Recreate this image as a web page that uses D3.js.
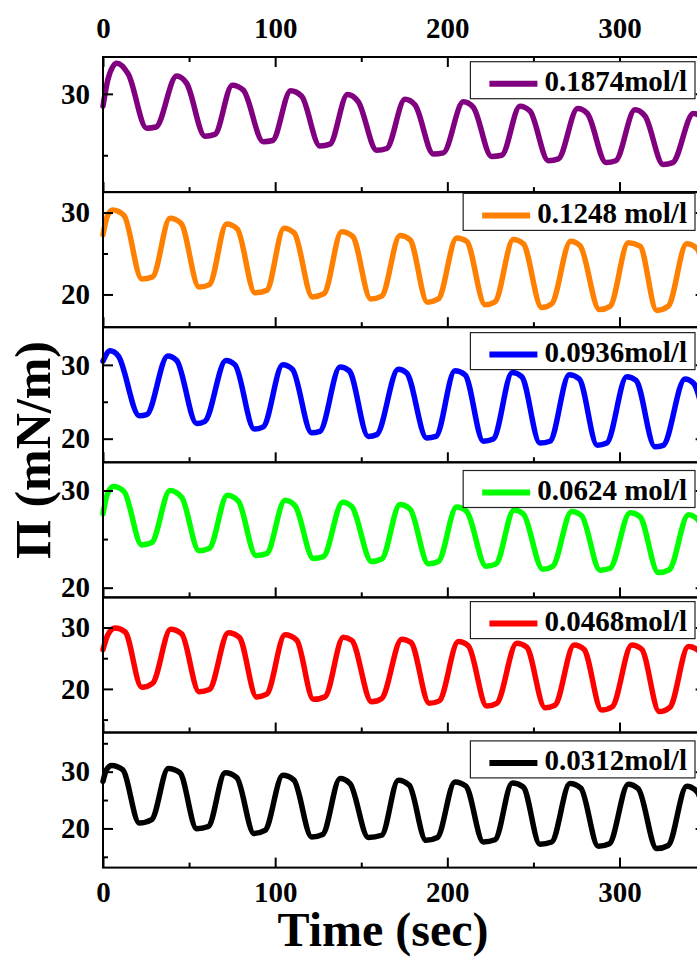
<!DOCTYPE html>
<html>
<head>
<meta charset="utf-8">
<script src="https://cdn.jsdelivr.net/npm/d3@7"></script>
<style>
  body { margin: 0; background: #fff; }
  svg { display: block; }
  text { font-family: "Liberation Serif", "Times New Roman", serif; font-weight: bold; fill: #000; }
</style>
</head>
<body>
<svg id="chart" width="697" height="957"></svg>
<script>
// ---- data -------------------------------------------------------------
const timeTicks = [0, 100, 200, 300];
const timeMinorTicks = [50, 150, 250, 350];
const concentrations = ["0.1874mol/l", "0.1248 mol/l", "0.0936mol/l", "0.0624 mol/l", "0.0468mol/l", "0.0312mol/l"];
const lineColors = ["#800080", "#ff8000", "#0000ff", "#00ff00", "#ff0000", "#000000"];
const piRanges = [[22, 33], [16, 32.5], [16.8, 35.1], [19, 32.9], [12.9, 34.9], [13.1, 36.9]];
const piTickLabels = [[30], [20, 30], [20, 30], [20, 30], [20, 30], [20, 30]];
const piMinorTicks = [[25], [25], [25], [25], [15, 25], [15, 25, 35]];

// surface pressure (mN/m) vs time (sec), one pair of arrays per concentration
const t1874 = [0, 3.1, 8, 14.7, 25.4, 30.8, 42.8, 48.6, 59.2, 65, 75.1, 81.5, 93.1, 98.5, 109, 115.4, 126, 131.8, 142, 148.3, 159, 164.8, 175.4, 181.2, 191.9, 197.7, 209.3, 215.1, 225.7, 231.6, 242.2, 248, 258.7, 264.5, 275.7, 281.3, 292.2, 297.8, 309, 314.8, 325.4, 330.9, 342.9, 348.6, 350];
const p1874 = [29.0, 31.3, 32.5, 31.6, 27.2, 27.3, 31.45, 30.85, 26.55, 26.7, 30.7, 30.3, 26.1, 26.2, 30.25, 29.8, 25.75, 25.9, 29.95, 29.35, 25.4, 25.55, 29.55, 29.1, 25.1, 25.2, 29.35, 28.9, 24.9, 25.0, 29.0, 28.6, 24.55, 24.7, 28.8, 28.4, 24.4, 24.55, 28.7, 28.2, 24.25, 24.4, 28.4, 28.0, 27.5];

const t1248 = [0, 2.5, 5.6, 12.2, 22.5, 28.8, 38.9, 45.3, 55.8, 61.8, 71.8, 78, 88.3, 95.1, 105.1, 111.1, 121.6, 128.4, 138.6, 145, 155.5, 161.9, 172.5, 178.3, 188.4, 194.8, 205.4, 211.2, 221.9, 227.7, 238.3, 244.1, 254.8, 260.6, 271.6, 277.1, 288.3, 294.5, 305.1, 311.9, 321.6, 328.3, 339, 345, 350];
const p1248 = [27.3, 29.56, 30.3, 29.65, 21.9, 22.15, 29.3, 28.7, 20.9, 21.2, 28.6, 28.0, 20.2, 20.5, 28.1, 27.5, 19.7, 20.1, 27.65, 27.1, 19.45, 19.8, 27.2, 26.7, 19.05, 19.45, 26.9, 26.5, 18.75, 19.1, 26.7, 26.2, 18.4, 18.85, 26.5, 25.95, 18.15, 18.55, 26.3, 25.9, 18.05, 18.55, 26.2, 25.6, 21.8];

const t0936 = [0, 4.1, 8.9, 21.1, 25.4, 37.6, 42.8, 54.4, 59.2, 71.4, 76.7, 87.9, 93.1, 104.4, 110, 121.2, 126, 137.7, 143, 154.1, 159, 171.5, 176.4, 188, 193.4, 204.4, 210.3, 220.9, 226.7, 237.7, 243.2, 253.8, 259.6, 270.8, 276.6, 287.1, 292.6, 304.2, 309.6, 320.6, 325.4, 338, 342.9, 350];
const p0936 = [30.5, 31.9, 31.2, 23.1, 23.25, 31.2, 30.6, 22.05, 22.35, 30.6, 30.0, 21.3, 21.6, 30.0, 29.4, 20.8, 21.0, 29.7, 29.2, 20.3, 20.55, 29.4, 28.9, 20.1, 20.3, 29.2, 28.65, 19.65, 19.95, 28.95, 28.4, 19.4, 19.65, 28.65, 28.1, 19.1, 19.4, 28.4, 27.9, 18.9, 19.1, 28.1, 27.55, 22.0];

const t0624 = [0, 2.5, 6, 12.2, 22.5, 28.3, 38.9, 45.7, 55.8, 61.8, 72.2, 78.6, 88.9, 95.1, 105.7, 111.5, 122.2, 128, 139.2, 144.5, 156, 161.9, 172.5, 178.3, 189, 194.8, 205.4, 211.2, 222.5, 228.3, 238.7, 244.1, 255.4, 261.2, 272.2, 278, 288.7, 294.5, 306.1, 311.9, 322.5, 328.9, 340, 345.5, 350];
const p0624 = [27.6, 29.6, 30.4, 29.9, 24.4, 24.65, 30.0, 29.3, 23.8, 24.05, 29.5, 28.9, 23.3, 23.5, 29.0, 28.45, 23.0, 23.2, 28.8, 28.35, 22.7, 22.95, 28.55, 28.1, 22.45, 22.7, 28.3, 27.85, 22.2, 22.45, 28.0, 27.6, 21.9, 22.2, 27.85, 27.4, 21.8, 22.0, 27.7, 27.3, 21.55, 21.85, 27.5, 27.0, 24.5];

const t0468 = [0, 2.8, 7, 12.8, 22.5, 28.8, 39.3, 45.7, 55.8, 61.8, 72.8, 79.2, 89.2, 95.1, 105.7, 112.5, 122.2, 128.9, 139.6, 144.5, 156, 161.9, 173.5, 178.9, 189.5, 195.3, 206.4, 212.2, 222.9, 228.7, 240.3, 246.1, 256.7, 262.5, 273.6, 279.4, 289.6, 295.8, 307.1, 312.9, 323.1, 329.3, 340, 346, 350];
const p0468 = [26.4, 28.8, 29.9, 29.3, 20.25, 20.9, 29.7, 28.95, 19.55, 19.9, 29.15, 28.4, 18.7, 19.15, 28.8, 27.95, 18.3, 18.7, 28.4, 27.9, 17.9, 18.45, 28.1, 27.55, 17.65, 18.05, 27.7, 27.0, 17.2, 17.65, 27.45, 26.8, 16.95, 17.35, 27.15, 26.45, 16.55, 17.1, 27.15, 26.45, 16.3, 17.0, 26.9, 26.2, 22.0];

const t0312 = [0, 2, 5, 11.4, 21.1, 28.3, 37.9, 44.7, 54.4, 61.2, 70.9, 77.7, 87.7, 94.1, 104.4, 110.9, 121.2, 127.6, 137.7, 143.5, 154.1, 161.9, 171.5, 177.9, 187.6, 194.2, 204.4, 210.8, 220.9, 227.7, 237.7, 244.1, 253.8, 260.6, 271.2, 277.5, 287.7, 294.1, 305.1, 310.9, 321.6, 328.3, 339, 345, 350];
const p0312 = [28.3, 30.3, 31.1, 30.35, 20.95, 21.55, 30.55, 29.8, 19.95, 20.35, 29.8, 28.95, 19.1, 19.65, 29.35, 28.5, 18.5, 18.95, 28.8, 27.9, 18.4, 18.8, 28.5, 27.6, 17.9, 18.4, 28.2, 27.45, 17.6, 18.0, 28.0, 27.3, 17.2, 17.6, 27.9, 27.1, 16.85, 17.3, 27.8, 27.0, 16.45, 17.0, 27.45, 26.5, 21.5];

const seriesTimes = [t1874, t1248, t0936, t0624, t0468, t0312];
const seriesPi = [p1874, p1248, p0936, p0624, p0468, p0312];

// ---- layout -------------------------------------------------------------
const svg = d3.select("#chart");
const left = 103, right = 705.6;
const firstTop = 57, panelH = 135.1;
const legendTop = [4.7, 1.3, 5.4, 8.2, 4.2, 8.4];
const fontSize = 29;

const x = d3.scaleLinear().domain([0, 350]).range([left, right]);

function styleAxis(g) {
  g.select(".domain").remove();
  g.selectAll(".tick line").attr("stroke", "#000").attr("stroke-width", 2);
  g.selectAll(".tick text").attr("font-size", fontSize);
  g.attr("font-family", null);
}

seriesTimes.forEach((times, i) => {
  const top = firstTop + i * panelH, bottom = top + panelH;
  const y = d3.scaleLinear().domain(piRanges[i]).range([bottom, top]);
  const g = svg.append("g");

  // recorded trace
  const pts = times.map((t, k) => [t, seriesPi[i][k]]);
  g.append("path")
    .datum(pts)
    .attr("fill", "none")
    .attr("stroke", lineColors[i])
    .attr("stroke-width", 5.5)
    .attr("stroke-linejoin", "round")
    .attr("stroke-linecap", "round")
    .attr("d", d3.line().x(d => x(d[0])).y(d => y(d[1])).curve(d3.curveMonotoneX));

  // left axis: labelled majors + minors, ticks pointing inward
  g.append("g").attr("transform", `translate(${left},0)`)
    .call(d3.axisLeft(y).tickValues(piTickLabels[i]).tickSize(-10).tickPadding(13).tickFormat(d3.format("d")))
    .call(styleAxis);
  g.append("g").attr("transform", `translate(${left},0)`)
    .call(d3.axisLeft(y).tickValues(piMinorTicks[i]).tickSize(-5).tickFormat(""))
    .call(styleAxis);
  // right axis mirror
  g.append("g").attr("transform", `translate(${right},0)`)
    .call(d3.axisRight(y).tickValues(piTickLabels[i]).tickSize(-10).tickFormat(""))
    .call(styleAxis);
  g.append("g").attr("transform", `translate(${right},0)`)
    .call(d3.axisRight(y).tickValues(piMinorTicks[i]).tickSize(-5).tickFormat(""))
    .call(styleAxis);

  // bottom time axis of each panel
  const last = i === seriesTimes.length - 1;
  g.append("g").attr("transform", `translate(0,${bottom})`)
    .call(d3.axisBottom(x).tickValues(timeTicks).tickSize(-10).tickPadding(14)
      .tickFormat(last ? d3.format("d") : ""))
    .call(styleAxis);
  g.append("g").attr("transform", `translate(0,${bottom})`)
    .call(d3.axisBottom(x).tickValues(timeMinorTicks).tickSize(-5).tickFormat(""))
    .call(styleAxis);

  if (i === 0) {
    g.append("g").attr("transform", `translate(0,${top})`)
      .call(d3.axisTop(x).tickValues(timeTicks).tickSize(-10).tickPadding(19).tickFormat(d3.format("d")))
      .call(styleAxis);
    g.append("g").attr("transform", `translate(0,${top})`)
      .call(d3.axisTop(x).tickValues(timeMinorTicks).tickSize(-5).tickFormat(""))
      .call(styleAxis);
  }

  // frame
  g.append("rect")
    .attr("x", left).attr("y", top)
    .attr("width", right - left).attr("height", panelH)
    .attr("fill", "none").attr("stroke", "#000").attr("stroke-width", 2);

  // legend
  const lg = g.append("g");
  const boxTop = top + legendTop[i];
  const box = lg.append("rect").attr("fill", "#fff").attr("stroke", "#222").attr("stroke-width", 1.2);
  const label = lg.append("text")
    .attr("font-size", fontSize)
    .attr("text-anchor", "end")
    .attr("x", 687).attr("y", boxTop + 29.5)
    .text(concentrations[i]);
  const w = label.node().getComputedTextLength();
  const textStart = 687 - w;
  const lineEnd = textStart - 7, lineStart = lineEnd - 48;
  lg.append("line")
    .attr("x1", lineStart).attr("x2", lineEnd)
    .attr("y1", boxTop + 22).attr("y2", boxTop + 22)
    .attr("stroke", lineColors[i]).attr("stroke-width", 6);
  box.attr("x", lineStart - 19).attr("y", boxTop)
    .attr("width", 695 - (lineStart - 19)).attr("height", 37);
});

// axis titles
svg.append("text")
  .attr("x", 383).attr("y", 946)
  .attr("text-anchor", "middle")
  .attr("font-size", 48)
  .text("Time (sec)");

svg.append("text")
  .attr("transform", "translate(50,450) rotate(-90)")
  .attr("text-anchor", "middle")
  .attr("font-size", 50)
  .text("Π (mN/m)");
</script>
</body>
</html>
